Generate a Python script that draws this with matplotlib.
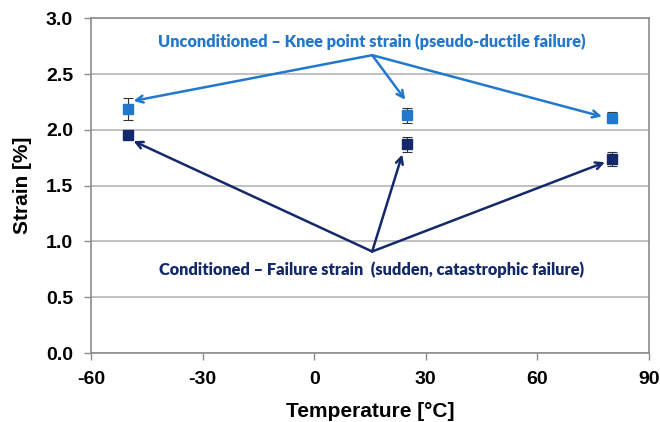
import matplotlib.pyplot as plt

# data
temps = [-50, 25, 80]
uncond_strain = [2.19, 2.13, 2.11]
uncond_err = [0.10, 0.07, 0.05]
cond_strain = [1.95, 1.87, 1.74]
cond_err = [0.02, 0.07, 0.06]

x_ticks = [-60, -30, 0, 30, 60, 90]
y_ticks = [0.0, 0.5, 1.0, 1.5, 2.0, 2.5, 3.0]

light = "#2178CC"
dark = "#14296B"

fig = plt.figure(figsize=(6.6, 4.22), dpi=100)
ax = fig.add_axes([0.138, 0.1635, 0.845, 0.793])

ax.errorbar(temps, uncond_strain, yerr=uncond_err, fmt="s", color=light,
            markersize=7.5, ecolor="#333333", elinewidth=0.8, capsize=3.5, capthick=0.8, zorder=3)
ax.errorbar(temps, cond_strain, yerr=cond_err, fmt="s", color=dark,
            markersize=7.5, ecolor="#333333", elinewidth=0.8, capsize=3.5, capthick=0.8, zorder=3)

ax.set_xlim(-60, 90)
ax.set_ylim(0, 3.0)
ax.set_xticks(x_ticks)
ax.set_yticks(y_ticks)
ax.set_xticklabels([str(t) for t in x_ticks])
ax.set_yticklabels(["%.1f" % t for t in y_ticks])
ax.yaxis.grid(True, color="#BFBFBF", linewidth=1.4)
ax.set_axisbelow(True)
for s in ax.spines.values():
    s.set_color("#8C8C8C")
    s.set_linewidth(1.2)
ax.tick_params(axis="both", direction="out", length=5, color="#8C8C8C", width=1.0,
               labelsize=14, pad=8)
for lab in ax.get_xticklabels() + ax.get_yticklabels():
    lab.set_fontfamily("Liberation Sans")
    lab.set_fontweight("bold")

ax.set_xlabel("Temperature [°C]", fontsize=15, fontweight="bold", family="Liberation Sans", labelpad=10)
ax.set_ylabel("Strain [%]", fontsize=15, fontweight="bold", family="Liberation Sans", labelpad=10)

# annotations
ax.text(15.5, 2.79, "Unconditioned \u2013 Knee point strain (pseudo-ductile failure)",
        color=light, fontsize=11.8, fontweight="heavy", family="Lato", ha="center", va="center")
ax.text(15.5, 0.75, "Conditioned \u2013 Failure strain  (sudden, catastrophic failure)",
        color=dark, fontsize=11.8, fontweight="heavy", family="Lato", ha="center", va="center")

apex_u = (15.6, 2.67)
for tgt in [(-48.6, 2.26), (24.5, 2.27), (77.4, 2.12)]:
    ax.annotate("", xy=tgt, xytext=apex_u,
                arrowprops=dict(arrowstyle="->,head_length=0.5,head_width=0.25",
                                color=light, lw=1.8, shrinkA=0, shrinkB=0))
apex_c = (15.6, 0.91)
for tgt in [(-48.6, 1.90), (23.7, 1.78), (78.2, 1.71)]:
    ax.annotate("", xy=tgt, xytext=apex_c,
                arrowprops=dict(arrowstyle="->,head_length=0.5,head_width=0.25",
                                color=dark, lw=1.8, shrinkA=0, shrinkB=0))

fig.savefig("out.png", dpi=100)
